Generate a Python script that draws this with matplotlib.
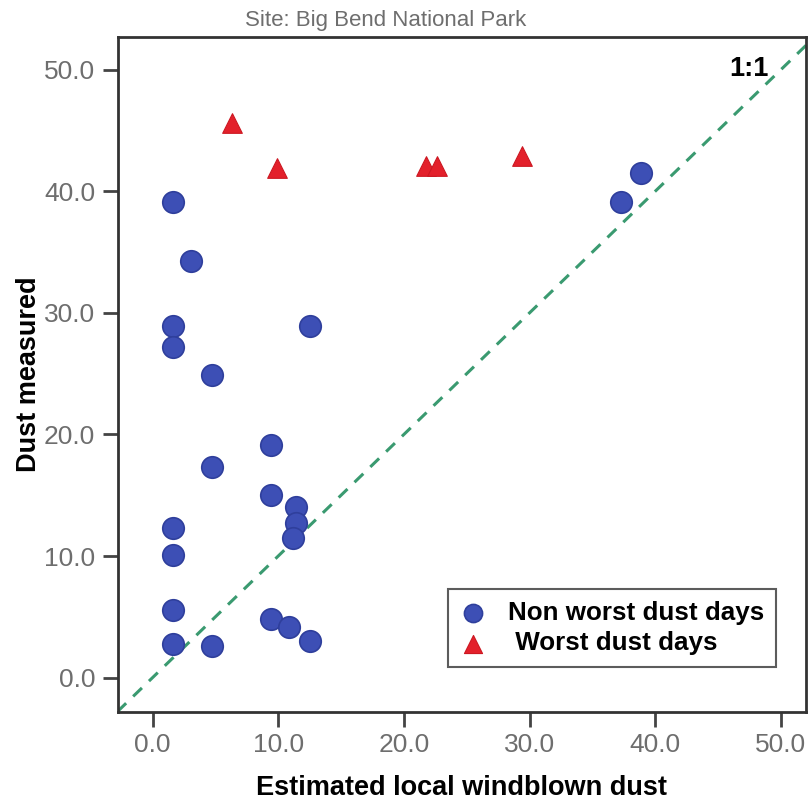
import matplotlib.pyplot as plt
import numpy as np

plt.rcParams['font.family'] = ['Liberation Sans', 'DejaVu Sans']

# non worst dust days
non_worst_x = [1.6, 3.1, 1.6, 1.6, 4.7, 12.5, 9.4, 4.7, 9.4, 11.4, 11.4, 11.2,
               1.6, 1.6, 1.6, 1.6, 4.7, 9.4, 10.9, 12.5, 37.3, 38.9]
non_worst_y = [39.1, 34.3, 28.9, 27.2, 24.9, 28.9, 19.1, 17.3, 15.0, 14.0, 12.7, 11.5,
               12.3, 10.1, 5.6, 2.8, 2.6, 4.8, 4.2, 3.0, 39.1, 41.5]

# worst dust days
worst_x = [6.3, 9.9, 21.8, 22.6, 29.4]
worst_y = [45.6, 41.9, 42.1, 42.1, 42.9]

ticks = [0, 10, 20, 30, 40, 50]
lo, hi = -2.8, 52.7

fig = plt.figure(figsize=(8.08, 8.02), dpi=100)
ax = fig.add_axes([0.146, 0.1126, 0.8515, 0.8414])

ax.plot([lo, hi], [lo, hi], linestyle=(0, (4, 3.2)), color='#3a9a70', lw=2.2, zorder=1)

ax.scatter(non_worst_x, non_worst_y, s=240, marker='o', color='#3d4fb5',
           edgecolor='#2f3f9c', linewidth=1.2, zorder=3, label='Non worst dust days')
ax.scatter(worst_x, worst_y, s=200, marker='^', color='#e3202b',
           edgecolor='#cc1822', linewidth=0.8, zorder=3, label=' Worst dust days')

ax.set_xlim(-2.75, 52.0)
ax.set_ylim(lo, hi)
ax.set_xticks(ticks)
ax.set_yticks(ticks)
ax.set_xticklabels([f'{t:.1f}' for t in ticks])
ax.set_yticklabels([f'{t:.1f}' for t in ticks])
ax.tick_params(axis='both', direction='out', length=11, width=2, color='#444444',
               labelcolor='#6e6e6e', labelsize=19, pad=4)
ax.tick_params(axis='y', pad=5.5)

for side in ['left', 'bottom', 'top', 'right']:
    ax.spines[side].set_color('#333333')
    ax.spines[side].set_linewidth(2)

ax.set_xlabel('Estimated local windblown dust', fontsize=19.5, fontweight='bold', labelpad=13)
ax.set_ylabel('Dust measured', fontsize=19.5, fontweight='bold', labelpad=1)

fig.text(0.477, 0.975, 'Site: Big Bend National Park', ha='center', va='center',
         fontsize=16, color='#6e6e6e')
ax.text(47.5, 50.1, '1:1', ha='center', va='center', fontsize=19.5, fontweight='bold')

leg = ax.legend(loc='lower right', bbox_to_anchor=(0.956, 0.066), borderaxespad=0,
                frameon=True, fancybox=False, edgecolor='#333333', handletextpad=0.85,
                borderpad=0.45, labelspacing=0.25, handlelength=1.0,
                prop={'weight': 'bold', 'size': 18.7})
leg.get_frame().set_linewidth(1.5)
for h in leg.legend_handles:
    h.set_sizes([170])

fig.savefig('out.png', dpi=100)
